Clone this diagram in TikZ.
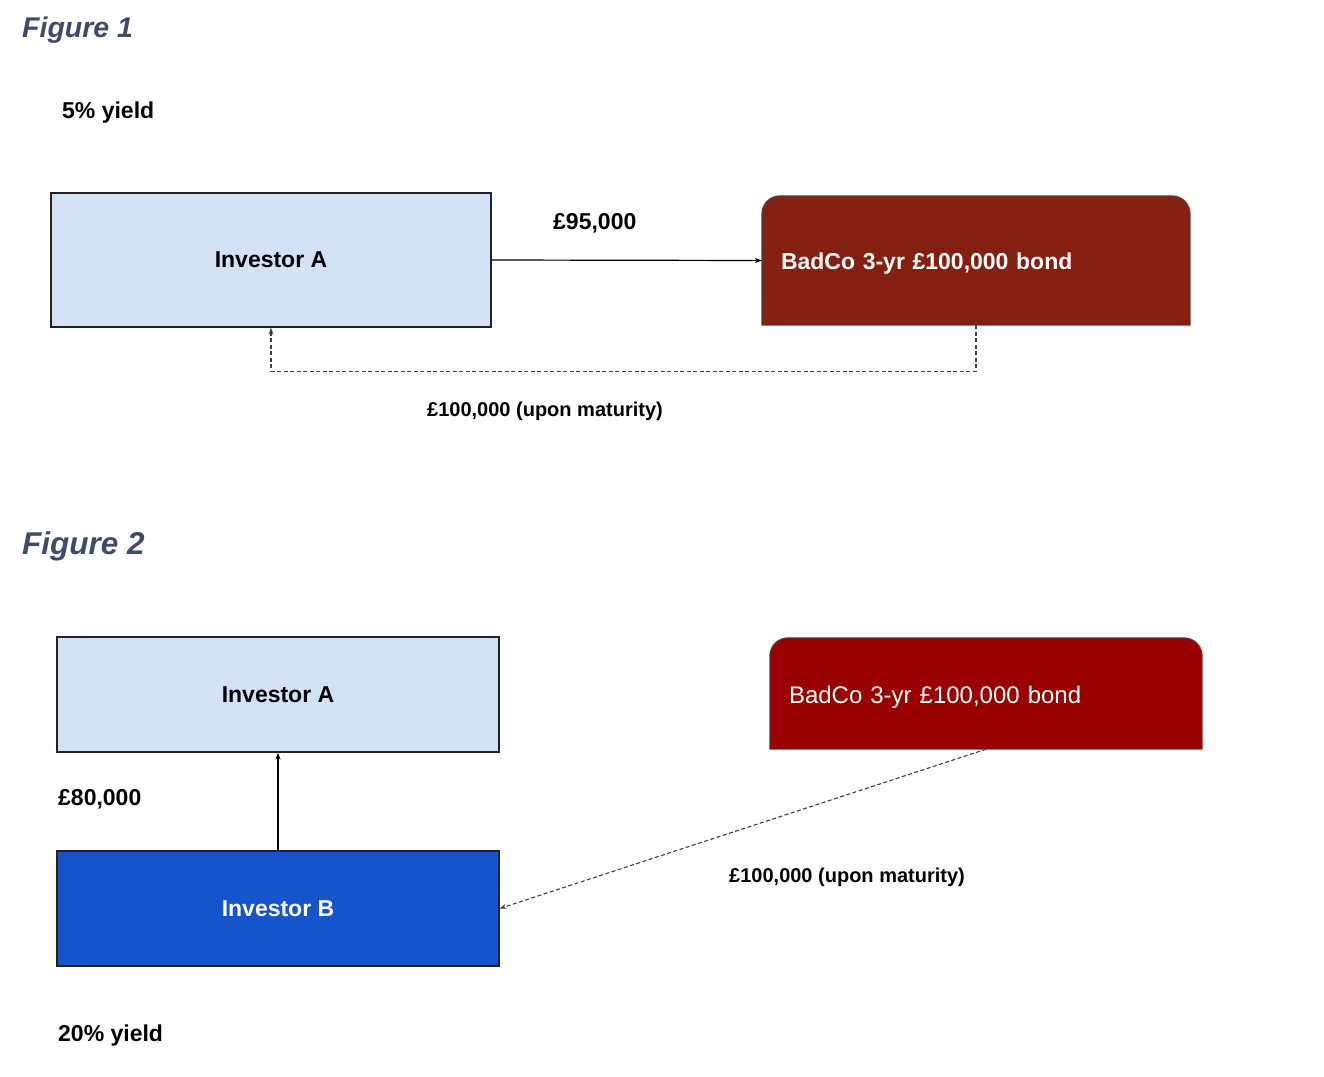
\documentclass[tikz,border=0pt]{standalone}
\usepackage{fontspec}
\setmainfont{Liberation Sans}
\usetikzlibrary{arrows.meta,backgrounds}
\definecolor{titleblue}{RGB}{62,76,106}
\definecolor{lightbox}{RGB}{211,226,244}
\definecolor{badcoA}{RGB}{132,32,17}
\definecolor{badcoB}{RGB}{153,0,0}
\definecolor{invB}{RGB}{20,85,204}
\definecolor{edge}{RGB}{34,34,34}
\newcommand{\fs}[1]{\fontsize{#1}{#1}\selectfont}
\tikzset{
  figtitle/.style={anchor=west,inner sep=0pt,text=titleblue,font=\bfseries\itshape},
  plain/.style={anchor=west,inner sep=0pt,font=\bfseries\fs{23}},
  invbox/.style={draw=edge,line width=1.2pt,fill=lightbox,font=\bfseries\fs{23},inner sep=0pt},
  bluebox/.style={draw=edge,line width=1.2pt,fill=invB,text=white,font=\bfseries\fs{23},inner sep=0pt},
  bondbox/.style={text=white,inner xsep=19pt,inner ysep=0pt,align=left},
  bondshape/.style={draw=black!70,line width=0.9pt,rounded corners=18pt},
  conn/.style={draw=black,line width=1.2pt,-{Stealth[length=7pt,width=5pt]}},
  dconn/.style={draw=black!75,line width=1.1pt,dash pattern=on 4pt off 2.5pt,-{Stealth[length=7pt,width=5pt]}},
  lbl/.style={inner sep=0pt,font=\bfseries\fs{20}}
}
\begin{document}
\begin{tikzpicture}[x=1pt,y=-1pt]
\useasboundingbox (0,0) rectangle (1324,1076);
% Figure 1
\node[figtitle,font=\bfseries\itshape\fs{28.5}] (t1) at (22,30) {Figure 1};
\node[plain] (y1) at (62,112.5) {5\% yield};
\node[invbox,minimum width=440pt,minimum height=134pt] (a1) at (271,260) {Investor A};
\node[bondbox,text width=390pt,minimum height=129pt,font=\bfseries\fs{23}] (b1) at (976,260.5) {\smash{\raisebox{-8.5pt}{BadCo 3-yr £100,000 bond}}};
\begin{scope}[on background layer]
\filldraw[bondshape,fill=badcoA] (b1.south west) -- (b1.north west) -- (b1.north east) [sharp corners] -- (b1.south east) -- cycle;
\end{scope}
\draw[conn] (a1.east) -- (b1.west);
\node[plain] (l95) at (553,223) {£95,000};
\draw[dconn] (b1.south) -- ++(0,46) -| (a1.south);
\node[lbl,anchor=west] (l100a) at (427,411) {£100,000 (upon maturity)};
% Figure 2
\node[figtitle,font=\bfseries\itshape\fs{31.5}] (t2) at (22,546) {Figure 2};
\node[invbox,minimum width=442pt,minimum height=115pt] (a2) at (278,694.5) {Investor A};
\node[bluebox,minimum width=442pt,minimum height=115pt] (ib) at (278,908.5) {Investor B};
\node[bondbox,text width=394pt,minimum height=111pt,font=\fs{24}] (b2) at (986,693.5) {\smash{\raisebox{-10pt}{BadCo 3-yr £100,000 bond}}};
\begin{scope}[on background layer]
\filldraw[bondshape,fill=badcoB] (b2.south west) -- (b2.north west) -- (b2.north east) [sharp corners] -- (b2.south east) -- cycle;
\end{scope}
\draw[conn] (ib.north) -- (a2.south);
\node[plain] (l80) at (58,799) {£80,000};
\draw[dconn] (b2.south) -- (ib.east);
\node[lbl,anchor=west] (l100b) at (729,877) {£100,000 (upon maturity)};
\node[plain] (y2) at (58,1035.5) {20\% yield};
\end{tikzpicture}
\end{document}
